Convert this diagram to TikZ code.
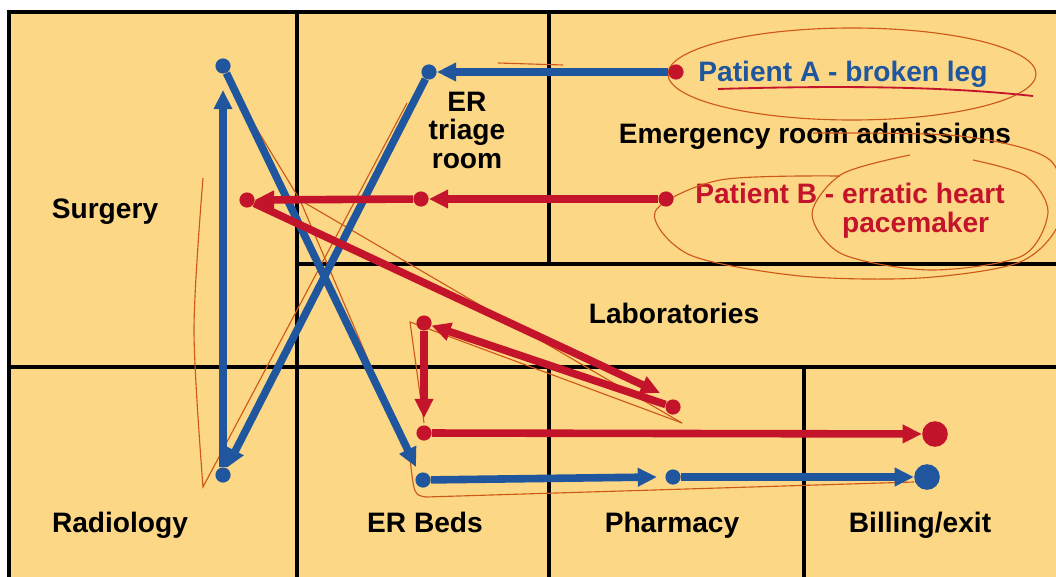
\documentclass[tikz,border=0pt]{standalone}
\usepackage{fontspec}
\setmainfont{Liberation Sans}
\usetikzlibrary{arrows.meta}
\definecolor{floor}{RGB}{252,215,133}
\definecolor{patA}{RGB}{32,86,158}
\definecolor{patB}{RGB}{196,20,44}
\definecolor{pen}{RGB}{205,88,24}
\begin{document}
\begin{tikzpicture}[x=0.025cm, y=-0.025cm, font=\fontsize{20}{20}\selectfont\bfseries]
        \useasboundingbox (0,0) rectangle (1056,577);
        \clip (0,0) rectangle (1056,577);
        \fill[floor] (9,12) rectangle (1070,590);

        \tikzstyle{wall}=[line width=2.8pt]
        \draw[wall] (9,590) -- (9,12) -- (1070,12);
        \draw[wall] (297,12) -- (297,590);
        \draw[wall] (549,12) -- (549,264);
        \draw[wall] (297,264) -- (1070,264);
        \draw[wall] (9,367) -- (1070,367);
        \draw[wall] (549,367) -- (549,590);
        \draw[wall] (804,367) -- (804,590);

        \tikzstyle{room}=[anchor=base, inner sep=0, align=center]
        \node[room] (surgery) at (105,218) {Surgery};
        \node[room] (triage) at (467,168) {ER\\triage\\room};
        \node[room] (admit) at (815,143) {Emergency room admissions};
        \node[room] (labs) at (674,323) {Laboratories};
        \node[room] (radio) at (120,532) {Radiology};
        \node[room] (beds) at (425,532) {ER Beds};
        \node[room] (pharm) at (672,532) {Pharmacy};
        \node[room] (bill) at (920,532) {Billing/exit};
        \node[room, patA] (txtA) at (843,82) {Patient A - broken leg};
        \node[room, patB, anchor=base west, align=left] (txtB) at (695,232)
            {Patient B - erratic heart\\\hphantom{Patient B - }pacemaker};

        \tikzstyle{scrib}=[pen, line width=0.8pt]
        \draw[scrib] (852,74) ellipse [x radius=184, y radius=46];
        \draw[patB, line width=1.3pt] (718,89) .. controls (850,85) and (950,87) .. (1033,96);
        \draw[scrib] plot[smooth] coordinates {(840,176) (720,180) (655,212) (690,255)
            (800,276) (920,278) (1020,262) (1060,220) (1050,160) (960,136) (813,133)};
        \draw[scrib] plot[smooth] coordinates {(910,155) (842,174) (812,214) (842,254)
            (930,270) (1022,256) (1048,212) (1026,176) (973,160)};
        \draw[scrib] (498,63) -- (563,65);
        \draw[scrib] plot[smooth] coordinates {(203,178) (194,330) (203,487)} -- (407,103);
        \draw[scrib] (227,80) -- (300,200) -- (682,423);
        \draw[scrib] (300,200) -- (410,458) .. controls (414,495) .. (426,497) -- (914,482);
        \draw[scrib] (424,423) -- (410,322) -- (682,423);

        \tikzstyle{bdot}=[circle, fill=patA, inner sep=0, minimum size=0.38cm]
        \tikzstyle{rdot}=[circle, fill=patB, inner sep=0, minimum size=0.38cm]
        \tikzstyle{bigb}=[circle, fill=patA, inner sep=0, minimum size=0.64cm]
        \tikzstyle{bigr}=[circle, fill=patB, inner sep=0, minimum size=0.64cm]
        \node[rdot] (A0) at (676,72) {};
        \node[bdot] (A1) at (429,72) {};
        \node[bdot] (A2) at (223,475) {};
        \node[bdot] (A3) at (223,66) {};
        \node[bdot] (A4) at (423,480) {};
        \node[bdot] (A5) at (673,477) {};
        \node[bigb] (A6) at (927,477) {};
        \coordinate (A3tip) at (223,90);
        \coordinate (A4tip) at (416,467);
        \coordinate (A5tip) at (657,477);

        \node[rdot] (B0) at (666,199) {};
        \node[rdot] (B1) at (421,199) {};
        \node[rdot] (B2) at (247,200) {};
        \node[rdot] (B3) at (673,407) {};
        \node[rdot] (B4) at (424,323) {};
        \node[rdot] (B5) at (424,433) {};
        \node[bigr] (B6) at (935,434) {};
        \coordinate (B3tip) at (660,393);

        \tikzstyle{late}=[line width=5.4pt, -{Triangle[length=0.48cm,width=0.44cm]}]
        \draw[late, patA] (A0)--(A1);
        \draw[late, patA] (A1)--(A2);
        \draw[late, patA] (A2)--(A3tip);
        \draw[late, patA] (A3)--(A4tip);
        \draw[late, patA] (A4)--(A5tip);
        \draw[late, patA] (A5)--(A6);
        \draw[late, patB] (B0)--(B1);
        \draw[late, patB] (B1)--(B2);
        \draw[late, patB] (B2)--(B3tip);
        \draw[late, patB] (B3)--(B4);
        \draw[late, patB, shorten >=5pt] (B4)--(B5);
        \draw[late, patB] (B5)--(B6);
    \end{tikzpicture}
\end{document}
